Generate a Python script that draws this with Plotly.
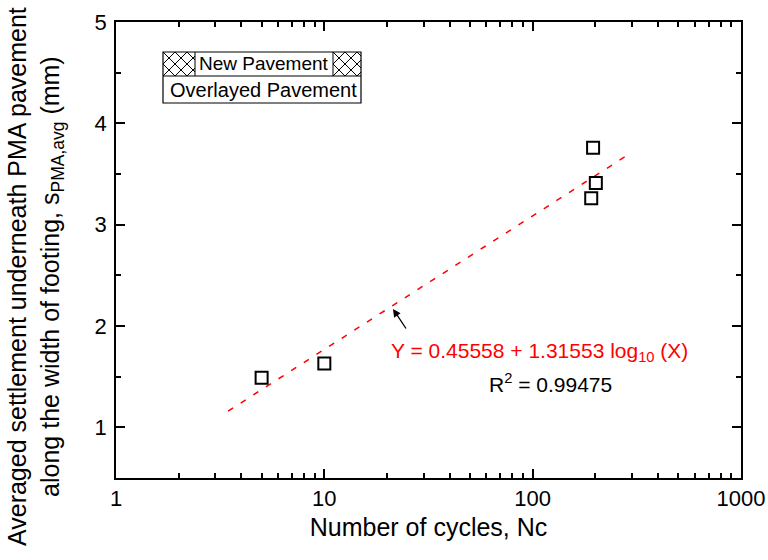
import plotly.graph_objects as go

# ---- data ----
cycles = [5, 10, 191, 195, 201]
settlement = [1.49, 1.63, 3.26, 3.76, 3.41]

fit_x = [3.45, 287]
fit_y = [1.16, 3.69]

x_tickvals = [1, 10, 100, 1000]
x_ticktext = ["1", "10", "100", "1000"]
x_minorvals = [m * d for d in (1, 10, 100) for m in range(2, 10)]
y_tickvals = [1, 2, 3, 4, 5]

W, H = 768, 560
L, R, T, B = 116, 27, 22, 82
PW, PH = W - L - R, H - T - B
FONT = "Arial, Liberation Sans, sans-serif"


def px(x):
    return (x - L) / PW


def py(y):
    return (H - B - y) / PH


def hatch_path(x0, y0, x1, y1, s):
    """cross-hatch path inside a pixel rectangle, returned in paper coords"""
    segs = []
    w, h = x1 - x0, y1 - y0
    for sign in (1, -1):
        c = -h
        while c <= w:
            pts = []
            for t in (0, h):
                xx = x0 + c + t
                pts.append((xx, y0 + t if sign == 1 else y1 - t))
            (ax, ay), (bx, by) = pts

            def clip(xa, ya, xb, yb):
                if xa < x0:
                    ya = ya + (yb - ya) * (x0 - xa) / (xb - xa)
                    xa = x0
                if xb > x1:
                    yb = ya + (yb - ya) * (x1 - xa) / (xb - xa)
                    xb = x1
                return xa, ya, xb, yb
            if bx >= x0 and ax <= x1:
                xa, ya, xb, yb = clip(ax, ay, bx, by)
                segs.append(f"M {px(xa):.5f} {py(ya):.5f} L {px(xb):.5f} {py(yb):.5f}")
            c += s
    return " ".join(segs)


fig = go.Figure()

fig.add_trace(go.Scatter(
    x=fit_x, y=fit_y, mode="lines",
    line=dict(color="red", width=1.5, dash="6px,9px"),
    showlegend=False, hoverinfo="skip",
))

fig.add_trace(go.Scatter(
    x=cycles, y=settlement, mode="markers",
    marker=dict(symbol="square-open", size=12, color="black",
                line=dict(width=2, color="black")),
    showlegend=False,
))

axis_common = dict(
    showline=True, linecolor="black", linewidth=1.5, mirror="allticks",
    ticks="inside", ticklen=9, tickwidth=1.5, tickcolor="black",
    showgrid=False, zeroline=False, automargin=False,
    tickfont=dict(family=FONT, size=22, color="black"),
)

fig.update_xaxes(
    type="log", range=[0, 3], tickmode="array", tickvals=x_tickvals, ticktext=x_ticktext,
    title=dict(text="Number of cycles, Nc", font=dict(family=FONT, size=25, color="black"),
               standoff=8),
    minor=dict(tickmode="array", tickvals=x_minorvals, ticks="inside", ticklen=5,
               tickwidth=1.5, tickcolor="black", showgrid=False),
    ticklabelstandoff=0,
    **axis_common,
)
fig.update_yaxes(
    range=[0.5, 5], tickmode="array", tickvals=y_tickvals,
    minor=dict(tickmode="array", tickvals=[1.5, 2.5, 3.5, 4.5], ticks="inside", ticklen=5,
               tickwidth=1.5, tickcolor="black", showgrid=False),
    ticklabelstandoff=3,
    **axis_common,
)

shapes = []
# legend box
bx0, by0, bx1, bmid, by1 = 163, 52, 361, 76, 103
shapes.append(dict(type="rect", xref="paper", yref="paper",
                   x0=px(bx0), x1=px(bx1), y0=py(by1), y1=py(by0),
                   line=dict(color="black", width=1.2), fillcolor="white", layer="above"))
shapes.append(dict(type="line", xref="paper", yref="paper",
                   x0=px(bx0), x1=px(bx1), y0=py(bmid), y1=py(bmid),
                   line=dict(color="black", width=1.2)))
for (hx0, hx1) in [(bx0, 195), (333, bx1)]:
    shapes.append(dict(type="path", xref="paper", yref="paper",
                       path=hatch_path(hx0, by0, hx1, bmid, 12),
                       line=dict(color="black", width=1)))
    edge = hx1 if hx0 == bx0 else hx0
    shapes.append(dict(type="line", xref="paper", yref="paper",
                       x0=px(edge), x1=px(edge),
                       y0=py(bmid), y1=py(by0), line=dict(color="black", width=1)))

annotations = [
    dict(xref="paper", yref="paper", x=px(35), y=py(277),
         text="Averaged settlement underneath PMA pavement<br>along the width of footing, s<sub>PMA,avg</sub> (mm)",
         textangle=-90, showarrow=False, font=dict(family=FONT, size=25, color="black"),
         xanchor="center", yanchor="middle"),
    dict(xref="paper", yref="paper", x=px(264), y=py(64), text="New Pavement",
         showarrow=False, font=dict(family=FONT, size=19, color="black"),
         xanchor="center", yanchor="middle"),
    dict(xref="paper", yref="paper", x=px(263), y=py(90), text="Overlayed Pavement",
         showarrow=False, font=dict(family=FONT, size=20, color="black"),
         xanchor="center", yanchor="middle"),
    dict(xref="paper", yref="paper", x=px(539), y=py(352),
         text="Y = 0.45558 + 1.31553 log<sub>10</sub> (X)",
         showarrow=False, font=dict(family=FONT, size=21, color="red"),
         xanchor="center", yanchor="middle"),
    dict(xref="paper", yref="paper", x=px(550), y=py(383),
         text="R<sup>2</sup> = 0.99475",
         showarrow=False, font=dict(family=FONT, size=21, color="black"),
         xanchor="center", yanchor="middle"),
    dict(xref="paper", yref="paper", x=px(393), y=py(309),
         ax=14, ay=21,
         text="", showarrow=True, arrowhead=2, arrowsize=1.2, arrowwidth=1.3,
         arrowcolor="black"),
]

fig.update_layout(
    width=W, height=H,
    margin=dict(l=L, r=R, t=T, b=B, autoexpand=False),
    paper_bgcolor="white", plot_bgcolor="white",
    shapes=shapes, annotations=annotations,
    font=dict(family=FONT, color="black"),
)

fig.write_html("out.html", config={"displayModeBar": False},
               post_script="document.body.style.margin='0';document.body.style.overflow='hidden';")
